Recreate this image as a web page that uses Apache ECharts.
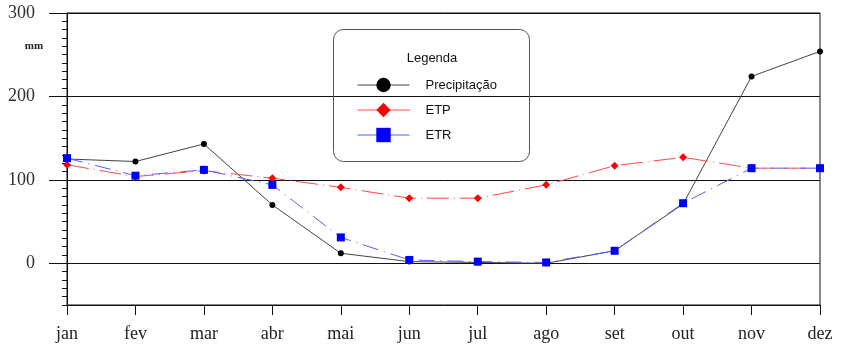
<!DOCTYPE html>
<html>
<head>
<meta charset="utf-8">
<script src="https://cdn.jsdelivr.net/npm/echarts@6/dist/echarts.min.js"></script>
<style>
  html, body { margin: 0; padding: 0; background: #fff; }
  #chart { width: 845px; height: 344px; }
</style>
</head>
<body>
<div id="chart"></div>
<script>
// Monthly water balance (mm)
const months = ['jan', 'fev', 'mar', 'abr', 'mai', 'jun', 'jul', 'ago', 'set', 'out', 'nov', 'dez'];
const precipitacao = [125, 122, 143, 70, 12, 2, 1, 0, 15, 71, 224, 254];
const etp = [118, 104, 111, 102, 91, 78, 78, 94, 117, 127, 114, 114];
const etr = [126, 105, 112, 94, 31, 4, 2, 1, 15, 72, 114, 114];
const majorTicks = [0, 100, 200, 300];

const serif = '"Liberation Serif", "DejaVu Serif", serif';
const sans = '"Liberation Sans", Arial, sans-serif';

const chart = echarts.init(document.getElementById('chart'), null, { renderer: 'canvas' });

const yRange = { min: -50, max: 300 };

chart.setOption({
  animation: false,
  backgroundColor: '#fff',
  grid: {
    left: 67, right: 25, top: 13, bottom: 39,
    show: true, borderColor: '#111', borderWidth: 1
  },
  xAxis: {
    type: 'category',
    data: months,
    boundaryGap: false,
    axisLine: { onZero: false, lineStyle: { color: '#111', width: 1 } },
    axisTick: { show: true, length: 10, alignWithLabel: true, lineStyle: { color: '#111' } },
    axisLabel: { fontFamily: serif, fontSize: 18, color: '#222', margin: 20 },
    splitLine: { show: false }
  },
  yAxis: [
    {
      // minor ticks every 10 mm
      type: 'value',
      min: yRange.min, max: yRange.max, interval: 10,
      axisLine: { show: true, lineStyle: { color: '#111', width: 1 } },
      axisTick: { show: true, length: 5, lineStyle: { color: '#111' } },
      axisLabel: { show: false },
      splitLine: { show: false }
    },
    {
      // labelled ticks and grid lines every 100 mm
      type: 'value',
      min: yRange.min, max: yRange.max,
      position: 'left',
      axisLine: { show: false },
      axisTick: { show: true, length: 18, customValues: majorTicks, lineStyle: { color: '#111' } },
      axisLabel: {
        customValues: majorTicks, fontFamily: serif, fontSize: 18, color: '#2b2f3a', margin: 32
      },
      splitLine: { show: true, customValues: majorTicks, lineStyle: { color: '#111', width: 1 } }
    }
  ],
  legend: {
    orient: 'vertical',
    left: 357, top: 76,
    itemWidth: 52, itemHeight: 18, itemGap: 7,
    padding: 0,
    textStyle: { fontFamily: sans, fontSize: 13, color: '#111', padding: [0, 0, 0, 11], lineHeight: 18 },
    lineStyle: { type: 'solid', width: 1 },
    data: ['Precipitação', 'ETP', 'ETR']
  },
  graphic: [
    {
      type: 'rect',
      shape: { x: 333.5, y: 29.5, width: 196, height: 132, r: 10 },
      style: { fill: 'none', stroke: '#555', lineWidth: 1 },
      z: 10
    },
    {
      type: 'text',
      style: { x: 432, y: 58, text: 'Legenda', fontFamily: sans, fontSize: 13, fill: '#111', align: 'center', verticalAlign: 'middle' },
      z: 10
    },
    {
      type: 'text',
      style: { x: 34, y: 46, text: 'mm', fontFamily: serif, fontSize: 11, fontWeight: 'bold', fill: '#222', align: 'center', verticalAlign: 'middle' },
      z: 10
    }
  ],
  series: [
    {
      name: 'Precipitação',
      type: 'line',
      data: precipitacao,
      symbol: 'circle', symbolSize: 6,
      itemStyle: { color: '#000' },
      lineStyle: { color: '#444', width: 1, type: 'solid' },
      z: 3
    },
    {
      name: 'ETP',
      type: 'line',
      data: etp,
      symbol: 'diamond', symbolSize: 8,
      itemStyle: { color: '#ff0000' },
      lineStyle: { color: '#ff4a4a', width: 1, type: [22, 5, 1, 5] },
      z: 4
    },
    {
      name: 'ETR',
      type: 'line',
      data: etr,
      symbol: 'rect', symbolSize: 8,
      itemStyle: { color: '#0000ff' },
      lineStyle: { color: '#5a5aff', width: 1, type: [16, 6, 1, 6] },
      z: 5
    }
  ]
});
</script>
</body>
</html>
